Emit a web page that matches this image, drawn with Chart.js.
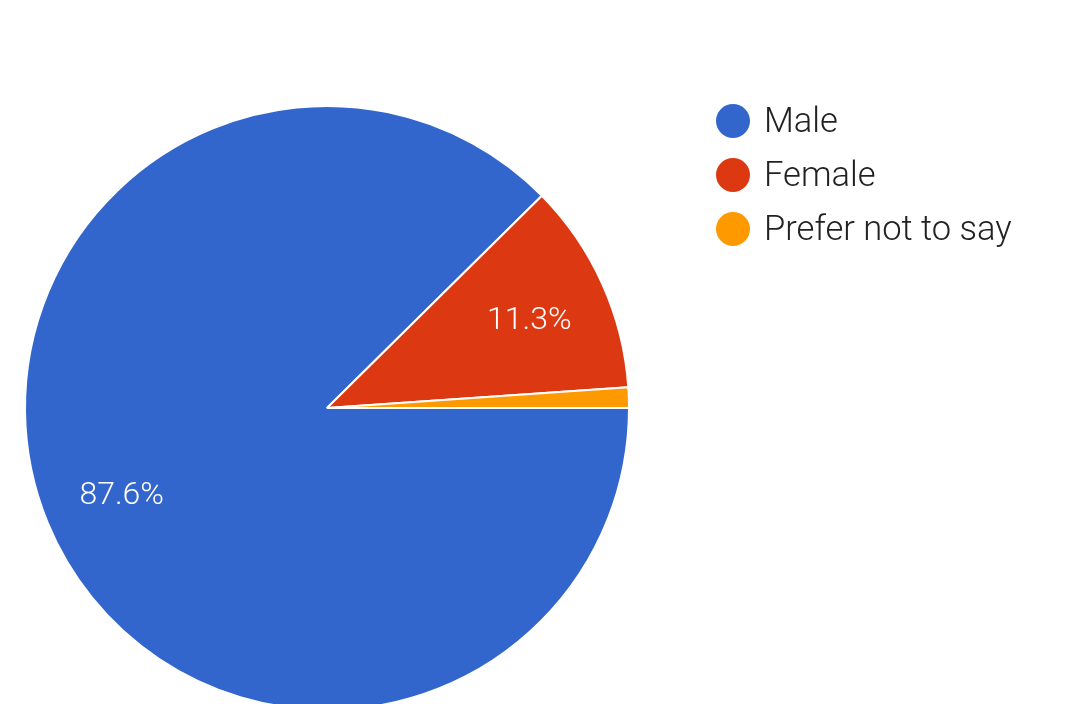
<!DOCTYPE html>
<html>
<head>
<meta charset="utf-8">
<script src="https://cdn.jsdelivr.net/npm/chart.js@4"></script>
<style>
  html, body { margin: 0; padding: 0; background: #fff; overflow: hidden; }
  #wrap { width: 1080px; height: 740px; position: relative; }
</style>
</head>
<body>
<div id="wrap"><canvas id="chart"></canvas></div>
<script>
// answers to the gender question
const categories = ['Male', 'Female', 'Prefer not to say'];
const percents = [87.6, 11.3, 1.1];
const colors = ['#3366cc', '#dc3912', '#ff9900'];

// white % text inside the bigger slices
const sliceLabels = {
  id: 'sliceLabels',
  afterDatasetsDraw(chart) {
    const ctx = chart.ctx;
    const meta = chart.getDatasetMeta(0);
    const total = percents.reduce((a, b) => a + b, 0);
    ctx.save();
    ctx.fillStyle = '#ffffff';
    ctx.font = '300 32px Roboto';
    ctx.textAlign = 'center';
    ctx.textBaseline = 'middle';
    meta.data.forEach((arc, i) => {
      const pct = percents[i] / total * 100;
      if (pct < 5) return;
      const p = arc.getProps(['x', 'y', 'startAngle', 'endAngle', 'outerRadius'], true);
      const mid = (p.startAngle + p.endAngle) / 2;
      const r = p.outerRadius * 0.735;
      ctx.fillText(pct.toFixed(1) + '%', p.x + Math.cos(mid) * r, p.y + Math.sin(mid) * r + 4);
    });
    ctx.restore();
  }
};

// legend on the right, circles + names
const sideLegend = {
  id: 'sideLegend',
  afterDraw(chart) {
    const ctx = chart.ctx;
    ctx.save();
    ctx.font = '300 34.5px Roboto';
    ctx.textBaseline = 'middle';
    ctx.textAlign = 'left';
    categories.forEach((name, i) => {
      const y = 121 + i * 54;
      ctx.beginPath();
      ctx.arc(733, y, 17, 0, Math.PI * 2);
      ctx.fillStyle = colors[i];
      ctx.fill();
      ctx.fillStyle = '#222222';
      ctx.fillText(name, 764, y + 2);
    });
    ctx.restore();
  }
};

new Chart(document.getElementById('chart'), {
  type: 'pie',
  data: {
    labels: categories,
    datasets: [{
      data: percents,
      backgroundColor: colors,
      borderColor: '#ffffff',
      borderWidth: 2
    }]
  },
  options: {
    responsive: true,
    maintainAspectRatio: false,
    animation: false,
    rotation: 90,
    layout: { padding: { left: 24, right: 450, top: 105, bottom: 29 } },
    plugins: {
      legend: { display: false },
      tooltip: { enabled: false }
    }
  },
  plugins: [sliceLabels, sideLegend]
});
</script>
</body>
</html>
